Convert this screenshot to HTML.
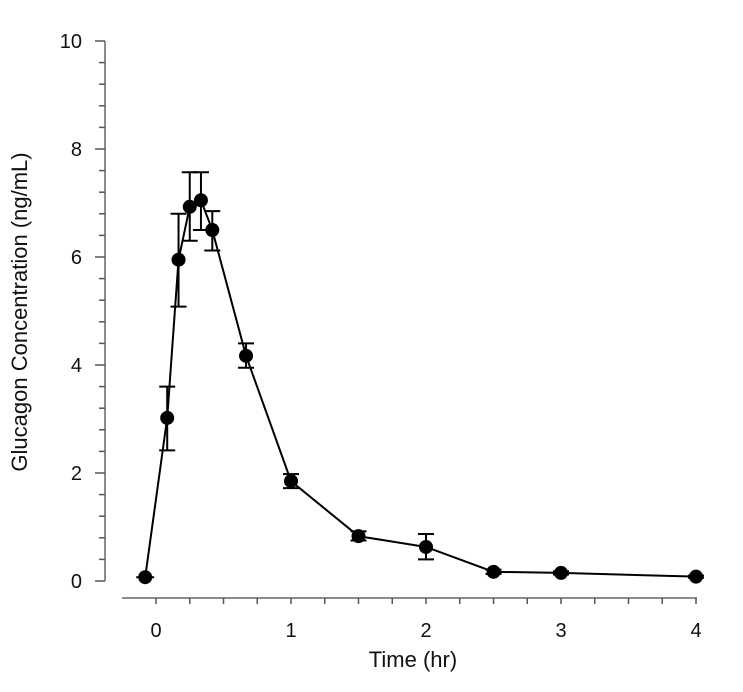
<!DOCTYPE html>
<html><head><meta charset="utf-8"><style>body{margin:0;background:#fff}svg{display:block}</style></head><body>
<svg width="743" height="692" xmlns="http://www.w3.org/2000/svg" font-family="Liberation Sans, Arial, sans-serif">
<g stroke="#666" stroke-width="1.5" fill="none">
<line x1="105" y1="41" x2="105" y2="581"/>
<line x1="122" y1="598" x2="697" y2="598"/>
</g>
<g stroke="#555" stroke-width="1.5" id="yt"></g>
<g stroke="#555" stroke-width="1.5" id="xt"></g>
<g font-size="20" fill="#111" text-anchor="end" id="yl"></g>
<g font-size="20" fill="#111" text-anchor="middle" id="xl"></g>
<text x="413" y="667" font-size="22" text-anchor="middle" fill="#111">Time (hr)</text>
<text transform="translate(27,312) rotate(-90)" font-size="22" text-anchor="middle" fill="#111">Glucagon Concentration (ng/mL)</text>
<g id="d"></g>
<script>
var NS="http://www.w3.org/2000/svg";
function X(t){return 156+135*t}function Y(v){return 581-54*v}
function el(p,n,a,txt){var e=document.createElementNS(NS,n);for(var k in a)e.setAttribute(k,a[k]);if(txt)e.textContent=txt;document.getElementById(p).appendChild(e);return e}
for(var i=0;i<=25;i++){var v=i*0.4,y=Y(v);el("yt","line",{x1:i%5==0?95:99,y1:y,x2:105,y2:y});}
for(var v=0;v<=10;v+=2)el("yl","text",{x:82,y:Y(v)+7},""+v);
for(var i=0;i<=16;i++){var x=X(i/4);el("xt","line",{x1:x,y1:598,x2:x,y2:604});}
for(var t=0;t<=4;t++)el("xl","text",{x:X(t),y:637},""+t);
var d=[[-0.08,0.07],[0.083,3.02,2.42,3.6],[0.167,5.95,5.08,6.8],[0.25,6.93,6.3,7.57],[0.333,7.05,6.5,7.57],[0.417,6.5,6.12,6.85],[0.667,4.17,3.95,4.4],[1,1.85,1.72,1.98],[1.5,0.83,0.75,0.92],[2,0.63,0.4,0.87],[2.5,0.17,0.13,0.21],[3,0.15,0.12,0.18],[4,0.08,0.06,0.1]];
var pts=d.map(function(p){return X(p[0])+","+Y(p[1])}).join(" ");
el("d","polyline",{points:pts,fill:"none",stroke:"#000","stroke-width":2});
d.forEach(function(p){var x=X(p[0]);if(p.length>2){el("d","line",{x1:x,y1:Y(p[2]),x2:x,y2:Y(p[3]),stroke:"#000","stroke-width":2});[p[2],p[3]].forEach(function(v){el("d","line",{x1:x-8,y1:Y(v),x2:x+8,y2:Y(v),stroke:"#000","stroke-width":2})});}
el("d","circle",{cx:x,cy:Y(p[1]),r:7,fill:"#000"});});
el("d","line",{x1:X(-0.08)-9,y1:Y(0.07),x2:X(-0.08)+9,y2:Y(0.07),stroke:"#000","stroke-width":2});
</script>
</svg>
</body></html>
